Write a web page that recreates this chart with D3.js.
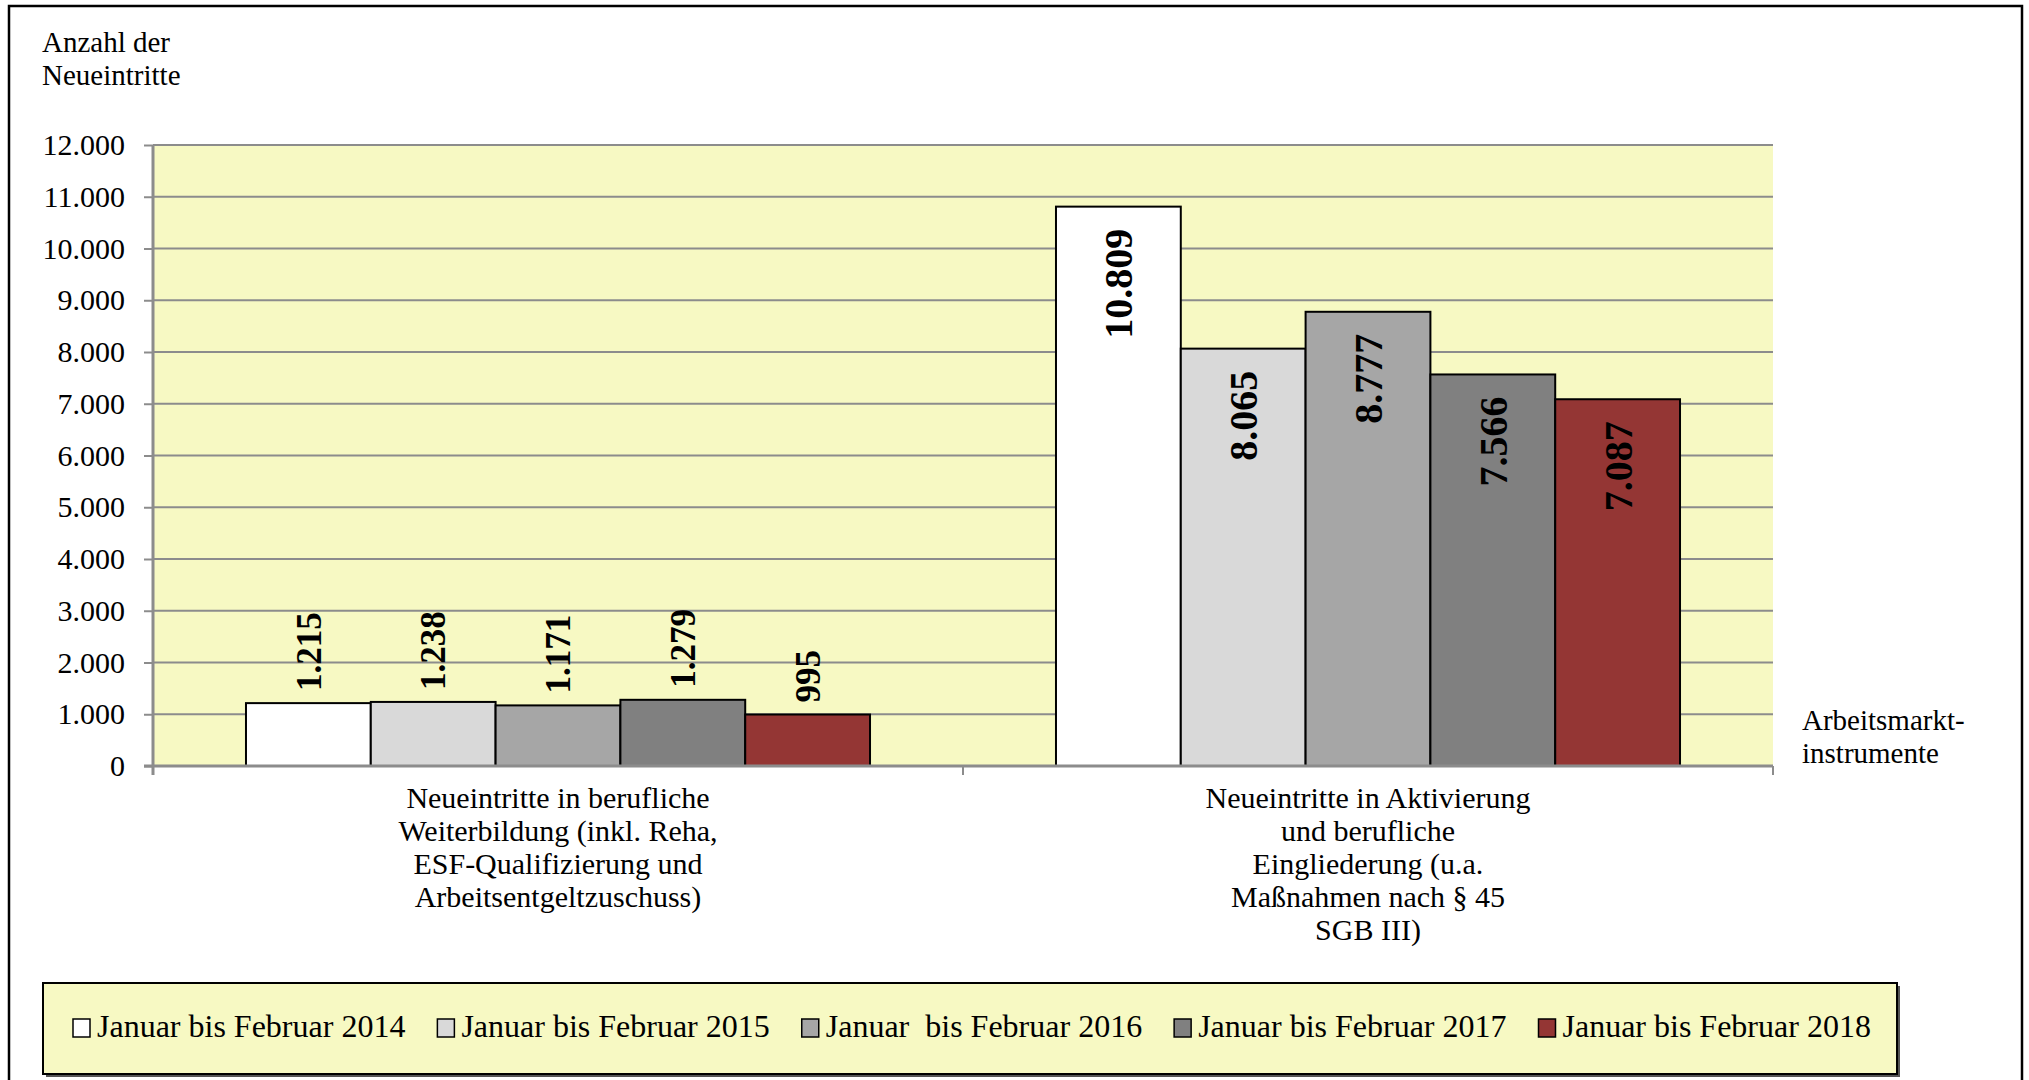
<!DOCTYPE html>
<html>
<head>
<meta charset="utf-8">
<script src="https://cdn.jsdelivr.net/npm/d3@7"></script>
<style>
  html, body { margin: 0; padding: 0; background: #fff; }
  svg { display: block; }
  text { font-family: 'Liberation Serif', 'Times New Roman', serif !important; white-space: pre; }
</style>
</head>
<body>
<svg id="chart" width="2029" height="1080"></svg>
<script>
// data
const categories = ['Weiterbildung', 'Aktivierung'];
const categoryLines = [
  ['Neueintritte in berufliche', 'Weiterbildung (inkl. Reha,', 'ESF-Qualifizierung und', 'Arbeitsentgeltzuschuss)'],
  ['Neueintritte in Aktivierung', 'und berufliche', 'Eingliederung (u.a.', 'Maßnahmen nach § 45', 'SGB III)']
];
const series = ['Januar bis Februar 2014', 'Januar bis Februar 2015', 'Januar  bis Februar 2016', 'Januar bis Februar 2017', 'Januar bis Februar 2018'];
const weiterbildung = [1215, 1238, 1171, 1279, 995];
const aktivierung = [10809, 8065, 8777, 7566, 7087];
const seriesColors = ['#ffffff', '#d9d9d9', '#a6a6a6', '#808080', '#943634'];
const yTitle = ['Anzahl der', 'Neueintritte'];
const xTitle = ['Arbeitsmarkt-', 'instrumente'];

const values = [weiterbildung, aktivierung];
const rows = categories.flatMap((c, ci) => series.map((s, si) => ({ cat: c, ci, s, si, v: values[ci][si] })));

const de = d3.formatLocale({ decimal: ',', thousands: '.', grouping: [3], currency: ['', ' €'] });
const fmt = de.format(',d');

const plot = { left: 153, right: 1773, top: 145, bottom: 766 };
const gridColor = '#8c8c8c';
const bg = '#f7f9c3';

const svg = d3.select('#chart');

// outer frame
svg.append('rect')
  .attr('x', 9).attr('y', 6).attr('width', 2013).attr('height', 1100)
  .attr('fill', 'none').attr('stroke', '#000').attr('stroke-width', 2.5);

const x0 = d3.scaleBand().domain(categories).range([plot.left, plot.right]);
const x1 = d3.scaleBand().domain(series).range([0, x0.bandwidth()]).paddingOuter(0.745);
const y = d3.scaleLinear().domain([0, 12000]).range([plot.bottom, plot.top]);

// plot background
svg.append('rect')
  .attr('x', plot.left).attr('y', plot.top)
  .attr('width', plot.right - plot.left).attr('height', plot.bottom - plot.top)
  .attr('fill', bg);

// gridlines
svg.append('g')
  .selectAll('line')
  .data(y.ticks(12).filter(d => d > 0))
  .join('line')
  .attr('x1', plot.left).attr('x2', plot.right)
  .attr('y1', d => y(d)).attr('y2', d => y(d))
  .attr('stroke', gridColor).attr('stroke-width', 2);

// bars
svg.append('g')
  .selectAll('rect')
  .data(rows)
  .join('rect')
  .attr('x', d => x0(d.cat) + x1(d.s))
  .attr('y', d => y(d.v))
  .attr('width', x1.bandwidth())
  .attr('height', d => y(0) - y(d.v))
  .attr('fill', d => seriesColors[d.si])
  .attr('stroke', '#000').attr('stroke-width', 2);

// value labels
svg.append('g')
  .selectAll('text')
  .data(rows)
  .join('text')
  .attr('transform', d => {
    const cx = x0(d.cat) + x1(d.s) + x1.bandwidth() / 2;
    const ty = d.ci === 0 ? y(d.v) - 12 : y(d.v) + 22;
    return `translate(${cx},${ty}) rotate(-90)`;
  })
  .attr('dy', '0.35em')
  .attr('text-anchor', d => d.ci === 0 ? 'start' : 'end')
  .attr('font-weight', 'bold')
  .attr('font-size', d => d.ci === 0 ? 35 : 40)
  .attr('fill', '#000')
  .text(d => fmt(d.v));

// y axis
const yAxis = svg.append('g')
  .attr('transform', `translate(${plot.left},0)`)
  .call(d3.axisLeft(y).ticks(12).tickSize(9).tickPadding(19).tickFormat(fmt));
yAxis.select('.domain').attr('stroke', gridColor).attr('stroke-width', 3)
  .attr('d', `M0,${plot.top}V${plot.bottom + 9}`);
yAxis.selectAll('.tick line').attr('stroke', gridColor).attr('stroke-width', 2);
yAxis.selectAll('.tick text')
  .attr('font-size', 30).attr('fill', '#000').attr('dy', '0.32em');

// x axis
const xAxis = svg.append('g')
  .attr('transform', `translate(0,${plot.bottom})`);
xAxis.append('line')
  .attr('x1', plot.left - 9).attr('x2', plot.right)
  .attr('stroke', gridColor).attr('stroke-width', 3);
xAxis.selectAll('line.tk')
  .data([...categories.map(c => x0(c)), plot.right])
  .join('line')
  .attr('class', 'tk')
  .attr('x1', d => d).attr('x2', d => d)
  .attr('y1', 0).attr('y2', 9)
  .attr('stroke', gridColor).attr('stroke-width', 2);

// category labels
const catG = svg.append('g')
  .selectAll('text')
  .data(categories)
  .join('text')
  .attr('x', c => x0(c) + x0.bandwidth() / 2)
  .attr('y', 808)
  .attr('text-anchor', 'middle')
  .attr('font-size', 30)
  .attr('fill', '#000');
catG.selectAll('tspan')
  .data((c, i) => categoryLines[i])
  .join('tspan')
  .attr('x', function () { return this.parentNode.getAttribute('x'); })
  .attr('dy', (d, i) => i === 0 ? 0 : 33)
  .text(d => d);

// axis titles
svg.append('text')
  .attr('x', 42).attr('y', 52)
  .attr('font-size', 29).attr('fill', '#000')
  .selectAll('tspan').data(yTitle).join('tspan')
  .attr('x', 42).attr('dy', (d, i) => i === 0 ? 0 : 33)
  .text(d => d);

svg.append('text')
  .attr('x', 1802).attr('y', 730)
  .attr('font-size', 29).attr('fill', '#000')
  .selectAll('tspan').data(xTitle).join('tspan')
  .attr('x', 1802).attr('dy', (d, i) => i === 0 ? 0 : 33)
  .text(d => d);

// legend
const legend = { x: 43, y: 983, w: 1854, h: 91 };
svg.append('rect')
  .attr('x', legend.x + 3).attr('y', legend.y + 3)
  .attr('width', legend.w).attr('height', legend.h)
  .attr('fill', '#555');
svg.append('rect')
  .attr('x', legend.x).attr('y', legend.y)
  .attr('width', legend.w).attr('height', legend.h)
  .attr('fill', bg).attr('stroke', '#000').attr('stroke-width', 2);

let lx = 73;
series.forEach((s, i) => {
  const g = svg.append('g');
  g.append('rect')
    .attr('x', lx).attr('y', 1019).attr('width', 17).attr('height', 18)
    .attr('fill', seriesColors[i]).attr('stroke', '#000').attr('stroke-width', 1.5);
  const t = g.append('text')
    .attr('x', lx + 24).attr('y', 1037)
    .attr('font-size', 32).attr('fill', '#000')
    .text(s);
  lx += 24 + t.node().getComputedTextLength() + 32;
});
</script>
</body>
</html>
